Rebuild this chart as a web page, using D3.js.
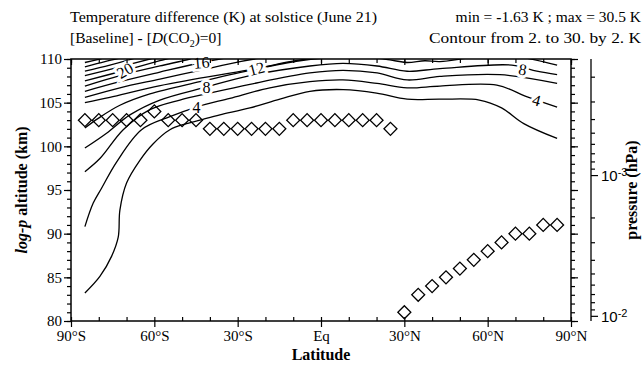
<!DOCTYPE html>
<html><head><meta charset="utf-8">
<script src="https://cdn.jsdelivr.net/npm/d3@7"></script>
<style>
body{margin:0;background:#fff}
svg{font-family:"Liberation Serif","DejaVu Serif",serif}
</style></head><body>
<svg id="c" width="644" height="365"></svg>
<script>
// ---- data ----
const latTicks = [-90,-60,-30,0,30,60,90];
const latTickLabels = ["90°S","60°S","30°S","Eq","30°N","60°N","90°N"];
const altTicks = [80,85,90,95,100,105,110];
const pressureTicks = [1e-3,1e-2];
const pressureExp = ["-3","-2"];
const contourLevels = [2,4,6,8,10,12,14,16,18,20,22,24,26,28];
const c2  = [[-85,83.2],[-79.6,85.1],[-75.4,87.4],[-73,89.6],[-72.4,92.7],[-70,95.8],[-65.2,98.4],[-60.4,100.3],[-54.4,101.9],[-48.4,102.6],[-42.5,103.1],[-36.4,103.6],[-25.6,104.4],[-14.8,105.4],[-4,106.3],[8,106.5],[20,106.1],[31,105.4],[43,105.4],[57,105.3],[65,104.4],[73,102.6],[85,100.9]];
const c4  = [[-85,90.8],[-82,93.5],[-79,95.2],[-73.6,98.2],[-64.6,101.9],[-54.4,103.4],[-44.8,104.5],[-32.8,105.5],[-18.4,106.7],[-4,107.4],[7.9,107.6],[20.2,107.2],[31,106.7],[42.8,106.9],[63.3,107.0],[74,105.7],[85,104.5]];
const c6  = [[-85,97.1],[-79.6,98.6],[-71.2,101.9],[-61.6,104.2],[-50.8,105.3],[-40,106.1],[-25.6,107.1],[-4,108.4],[7.9,108.7],[20.2,108.4],[31,107.6],[42.8,108.0],[64.4,108.2],[85,107.2]];
const c8  = [[-85,99.8],[-77.2,101.5],[-68.8,103.6],[-58,105.3],[-41.2,106.8],[-25.6,108.1],[-4,109.2],[7.9,109.5],[20.2,109.2],[31,108.6],[42.8,108.9],[68.7,109.3],[77.7,108.6],[85,108.2]];
const c10 = [[-85,102.1],[-80.2,103.2],[-72.4,104.7],[-61.6,106.0],[-43.6,107.4],[-25.6,108.7],[-7.6,109.8],[6.8,110.2],[17.6,110.2],[24.8,109.9],[31,109.6],[37.4,109.8],[42.8,109.7],[57.9,110.3],[69.8,110.3],[85,109.3]];
const c12 = [[-85,105.0],[-76,105.6],[-61.6,106.7],[-43.6,107.8],[-23.2,108.9],[-11.2,109.7],[-0.4,110.2]];
const c14 = [[-85,105.6],[-72.4,106.7],[-58,107.7],[-43.6,108.7],[-29.2,109.7],[-20.2,110.2]];
const c16 = [[-85,106.3],[-72.4,107.4],[-58,108.5],[-42.9,109.6],[-32.8,110.2]];
const c18 = [[-85,106.9],[-72.4,108.1],[-58,109.2],[-47.2,110.0],[-44,110.3]];
const c20 = [[-85,107.5],[-70.6,108.7],[-58,109.8],[-54.4,110.1]];
const c22 = [[-85,108.1],[-72.4,109.1],[-61.6,110.0],[-59,110.2]];
const c24 = [[-85,108.6],[-76,109.3],[-67,110.1]];
const c26 = [[-85,109.1],[-77.8,109.7],[-72.4,110.1]];
const c28 = [[-85,109.6],[-79.6,110.0],[-77,110.2]];
const contourLines = [c2,c4,c6,c8,c10,c12,c14,c16,c18,c20,c22,c24,c26,c28];
const labelValues = ["20","16","12","8","4","8","4"];
const labelLat = [-70.6,-43,-23.2,-41.2,-44.8,72.6,77.6];
const labelAlt = [108.7,109.6,108.9,106.8,104.5,108.8,105.3];
const labelAngle = [-30,-5,-15,0,0,10,15];
const diamondLatS = [-85,-80,-75,-70,-65,-60,-55,-50,-45,-40,-35,-30,-25,-20,-15,-10,-5,0,5,10,15,20,25];
const diamondAltS = [103,103,103,103,103,104,103,103,103,102,102,102,102,102,102,103,103,103,103,103,103,103,102];
const diamondLatN = [30,35,40,45,50,55,60,65,70,75,80,85];
const diamondAltN = [81,83,84,85,86,87,88,89,90,90,91,91];

// ---- layout ----
const svg = d3.select("#c");
const L=71, R=571, T=59, B=321;
const x = d3.scaleLinear([-90,90],[L,R]);
const y = d3.scaleLinear([80,110],[B,T]);
const H = 7, p0 = 1000;
const pr = d3.scaleLog([p0*Math.exp(-80/H), p0*Math.exp(-110/H)],[B,T]);

svg.append("defs").append("clipPath").attr("id","clip")
  .append("rect").attr("x",L).attr("y",T).attr("width",R-L).attr("height",B-T);

const g = svg.append("g").attr("clip-path","url(#clip)");
const line = d3.line().x(d=>x(d[0])).y(d=>y(d[1])).curve(d3.curveCatmullRom.alpha(0.5));
g.selectAll("path.ct").data(contourLines).join("path")
  .attr("class","ct").attr("d",line)
  .attr("fill","none").attr("stroke","#000").attr("stroke-width",1.3);

// contour labels with white halo gap
svg.selectAll("text.cl").data(labelValues).join("text")
  .attr("class","cl")
  .attr("transform",(d,i)=>`translate(${x(labelLat[i])},${y(labelAlt[i])}) rotate(${labelAngle[i]})`)
  .attr("text-anchor","middle").attr("dy","0.35em")
  .attr("font-size",16)
  .attr("stroke","#fff").attr("stroke-width",6).attr("paint-order","stroke")
  .attr("fill","#000").text(d=>d);

// diamonds
const sym = d3.symbol().type(d3.symbolSquare).size(84);
function diamonds(lats, alts){
  svg.append("g").selectAll("path").data(lats).join("path")
    .attr("d",sym)
    .attr("transform",(d,i)=>`translate(${x(d)},${y(alts[i])}) rotate(45)`)
    .attr("fill","none").attr("stroke","#000").attr("stroke-width",1.3);
}
diamonds(diamondLatS, diamondAltS);
diamonds(diamondLatN, diamondAltN);

// frame
svg.append("rect").attr("x",L).attr("y",T).attr("width",R-L).attr("height",B-T)
  .attr("fill","none").attr("stroke","#000").attr("stroke-width",1.5);

function styleAxis(sel){
  sel.select(".domain").remove();
  sel.selectAll(".tick line").attr("stroke","#000").attr("stroke-width",1.2);
  sel.selectAll("text").attr("font-size",15).attr("fill","#000")
     .attr("font-family","'Liberation Serif',serif");
}
// left
svg.append("g").attr("transform",`translate(${L},0)`)
  .call(d3.axisLeft(y).tickValues(d3.range(80,111,1)).tickSize(4).tickFormat(""))
  .call(styleAxis);
svg.append("g").attr("transform",`translate(${L},0)`)
  .call(d3.axisLeft(y).tickValues(altTicks).tickSize(7).tickPadding(2).tickFormat(d3.format("d")))
  .call(styleAxis);
// right frame
svg.append("g").attr("transform",`translate(${R},0)`)
  .call(d3.axisRight(y).tickValues(d3.range(80,111,1)).tickSize(4).tickFormat(""))
  .call(styleAxis);
svg.append("g").attr("transform",`translate(${R},0)`)
  .call(d3.axisRight(y).tickValues(altTicks).tickSize(7).tickFormat(""))
  .call(styleAxis);
// bottom
svg.append("g").attr("transform",`translate(0,${B})`)
  .call(d3.axisBottom(x).tickValues(d3.range(-90,91,10)).tickSize(-4).tickFormat(""))
  .call(styleAxis);
svg.append("g").attr("transform",`translate(0,${B})`)
  .call(d3.axisBottom(x).tickValues(latTicks).tickSize(6).tickPadding(3).tickFormat((d,i)=>latTickLabels[i]))
  .call(styleAxis);
// top
svg.append("g").attr("transform",`translate(0,${T})`)
  .call(d3.axisTop(x).tickValues(d3.range(-90,91,10)).tickSize(-4).tickFormat(""))
  .call(styleAxis);
svg.append("g").attr("transform",`translate(0,${T})`)
  .call(d3.axisTop(x).tickValues(latTicks).tickSize(-6).tickFormat(""))
  .call(styleAxis);

// pressure axis
const PX = 591;
svg.append("line").attr("x1",PX).attr("x2",PX).attr("y1",T).attr("y2",B).attr("stroke","#000").attr("stroke-width",1.3);
const minorP = [];
[1e-4,1e-3,1e-2].forEach(dec=>{for(let k=2;k<=9;k++){const v=dec*k; if(pr(v)>=T && pr(v)<=B) minorP.push(v);}});
svg.append("g").attr("transform",`translate(${PX},0)`)
  .call(d3.axisRight(pr).tickValues(minorP).tickSize(4).tickFormat(""))
  .call(styleAxis);
const pax = svg.append("g").attr("transform",`translate(${PX},0)`)
  .call(d3.axisRight(pr).tickValues(pressureTicks).tickSize(7).tickPadding(3).tickFormat(""))
  .call(styleAxis);
pax.selectAll(".tick").append("text").attr("x",10).attr("dy","0.35em").attr("fill","#000")
  .attr("font-size",15).attr("text-anchor","start")
  .each(function(d,i){
    const t=d3.select(this);
    t.append("tspan").text("10");
    t.append("tspan").attr("dy","-0.45em").attr("font-size",11).text(pressureExp[i]);
  });

// titles
svg.append("text").attr("x",70).attr("y",22).attr("font-size",15.5)
  .attr("textLength",307).attr("lengthAdjust","spacingAndGlyphs")
  .text("Temperature difference (K) at solstice (June 21)");
const t2 = svg.append("text").attr("x",70).attr("y",43).attr("font-size",15.5);
t2.append("tspan").text("[Baseline] ");
t2.append("tspan").attr("font-weight","bold").text("-");
t2.append("tspan").text(" [");
t2.append("tspan").attr("font-style","italic").text("D");
t2.append("tspan").text("(CO");
t2.append("tspan").attr("font-size",10).attr("dy","4").text("2");
t2.append("tspan").attr("dy","-4").text(")=0]");
const t3 = svg.append("text").attr("x",641).attr("y",22).attr("font-size",15.5).attr("text-anchor","end");
t3.append("tspan").text("min = ");
t3.append("tspan").attr("font-weight","bold").text("-");
t3.append("tspan").text("1.63 K ; max = 30.5 K");
svg.append("text").attr("x",641).attr("y",43).attr("font-size",15.5).attr("text-anchor","end")
  .attr("textLength",212).attr("lengthAdjust","spacingAndGlyphs")
  .text("Contour from 2. to 30. by 2. K");

// axis titles
svg.append("text").attr("x",(L+R)/2).attr("y",360).attr("text-anchor","middle")
  .attr("font-size",16).attr("font-weight","bold").text("Latitude");
const yl = svg.append("text").attr("transform",`translate(27,${(T+B)/2}) rotate(-90)`)
  .attr("text-anchor","middle").attr("font-size",16).attr("font-weight","bold");
yl.append("tspan").attr("font-style","italic").text("log-p");
yl.append("tspan").text(" altitude (km)");
svg.append("text").attr("transform",`translate(637,${(T+B)/2}) rotate(-90)`)
  .attr("text-anchor","middle").attr("font-size",16).attr("font-weight","bold").text("pressure (hPa)");
</script>
</body></html>
